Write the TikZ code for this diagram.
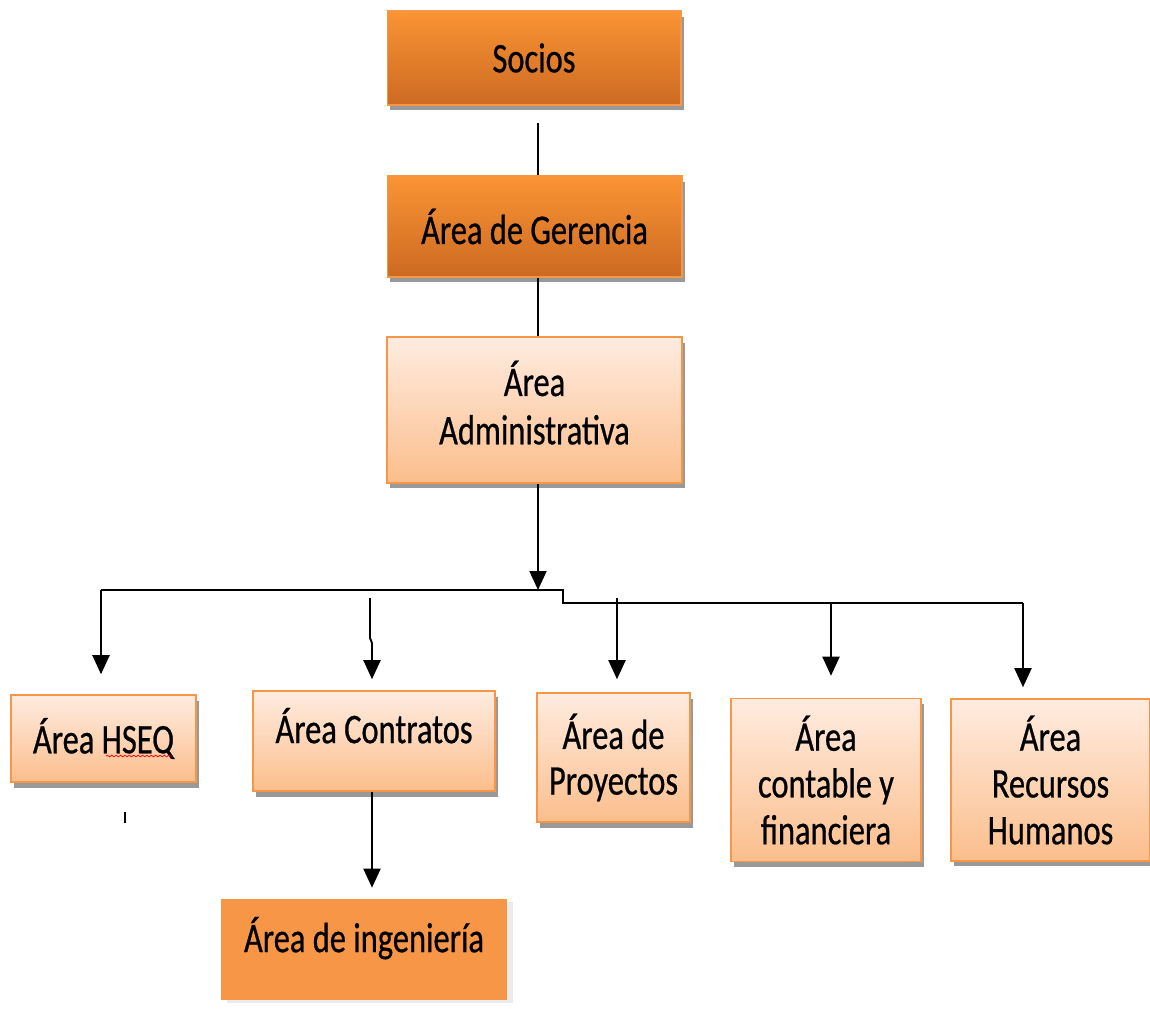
\documentclass[tikz,border=0pt]{standalone}
\usepackage{fontspec}
\setmainfont{Carlito}[FakeStretch=0.77,FakeBold=0.6]
\usetikzlibrary{arrows.meta,shadows,decorations.pathmorphing}
\definecolor{naranja}{RGB}{247,150,70}
\definecolor{narA}{RGB}{250,148,52}
\definecolor{narB}{RGB}{204,106,34}
\definecolor{claroA}{RGB}{255,236,224}
\definecolor{claroB}{RGB}{251,190,140}

\begin{document}
\begin{tikzpicture}[x=0.02cm,y=-0.02cm,
    fuerte/.style={rectangle, draw=naranja, line width=0.6pt, top color=narA, bottom color=narB,
      inner sep=0pt, align=center, font=\fontsize{24}{26}\selectfont,
      drop shadow={shadow xshift=0.06cm, shadow yshift=-0.11cm, fill=black!40, opacity=1}},
    suave/.style={fuerte, line width=0.9pt, top color=claroA, bottom color=claroB},
    plano/.style={rectangle, fill=naranja, inner sep=0pt, align=center, font=\fontsize{24}{26}\selectfont,
      drop shadow={shadow xshift=0.12cm, shadow yshift=-0.06cm, fill=black!8, opacity=1}},
    linea/.style={line width=1.1pt},
    flecha/.style={linea, -{Triangle[width=0.34cm,length=0.38cm]}}]
  \useasboundingbox (0,0) rectangle (1150,1012);

  % cabeza
  \node[fuerte, minimum width=5.88cm, minimum height=1.88cm] (socios) at (534,58) {Socios};
  \node[fuerte, minimum width=5.9cm, minimum height=2.02cm] (gerencia) at (534.5,226.5) {Área de Gerencia};
  \node[suave, minimum width=5.9cm, minimum height=2.92cm, text depth=0.3cm,
    font=\fontsize{24}{27.5}\selectfont] (admin) at (534.5,410) {Área\\Administrativa};

  % areas
  \node[suave, minimum width=3.7cm, minimum height=1.74cm] (hseq) at (103.5,738.5) {Área HSEQ};
  \node[suave, minimum width=4.84cm, minimum height=2cm, text depth=0.62cm] (contratos) at (374,741) {Área Contratos};
  \node[suave, minimum width=3.06cm, minimum height=2.58cm] (proyectos) at (613.5,757.5) {Área de\\Proyectos};
  \node[suave, minimum width=3.8cm, minimum height=3.26cm, font=\fontsize{24}{26.6}\selectfont] (contable) at (826,780) {Área\\contable y\\financiera};
  \node[suave, minimum width=3.98cm, minimum height=3.24cm, font=\fontsize{24}{26.6}\selectfont] (rrhh) at (1050.5,780) {Área\\Recursos\\Humanos};
  \node[plano, minimum width=5.72cm, minimum height=2.02cm, text depth=0.6cm] (ingenieria) at (364,949.5) {Área de ingeniería};

  \draw[red, line width=0.4pt, decorate, decoration={snake, amplitude=0.5pt, segment length=2.5pt}]
    (106,756) -- (172,756);

  \coordinate (s1) at (538,123);
  \coordinate (j) at (538,590);
  \coordinate (busL) at (101,590);
  \coordinate (paso) at (563,590);
  \coordinate (busR) at (1023,603);
  \coordinate (c0) at (370,598);
  \coordinate (p0) at (617,598);
  \coordinate (f0) at (831,603);

  \draw[linea] (s1) -- (gerencia.north -| s1);
  \draw[linea] (gerencia.south -| s1) -- (admin.north -| s1);
  \draw[flecha] (admin.south -| s1) -- (j);
  \draw[linea] (busL) -- (paso) -- (563,603) -- (busR);

  \draw[flecha] (busL) -- ([yshift=0.4cm]hseq.north -| busL);
  \draw[flecha] (c0) -- (370,638) -- (372,643) -- ([yshift=0.22cm]contratos.north -| 372,0);
  \draw[flecha] (p0) -- ([yshift=0.26cm]proyectos.north -| p0);
  \draw[flecha] (f0) -- ([yshift=0.44cm]contable.north -| f0);
  \draw[flecha] (busR) -- ([yshift=0.22cm]rrhh.north -| busR);
  \draw[flecha] (contratos.south -| 372,0) -- ([yshift=0.22cm]ingenieria.north -| 372,0);

  \draw[line width=0.8pt] (125,812) -- (125,823);
\end{tikzpicture}
\end{document}
